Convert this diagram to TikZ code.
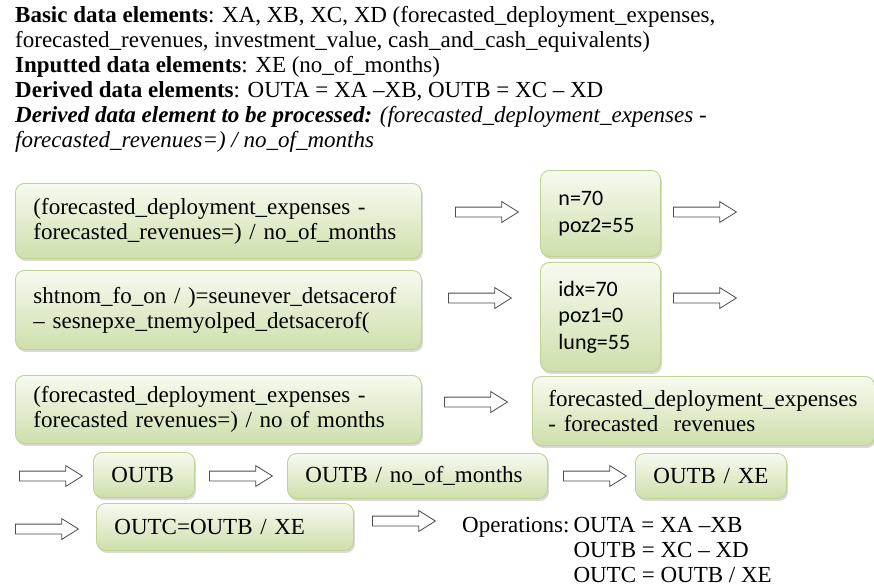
\documentclass[tikz,border=0pt]{standalone}
\usepackage{fontspec}
\setmainfont{Liberation Serif}
\newfontfamily\calibri{Carlito}
\usetikzlibrary{shapes.arrows,shadows}
\definecolor{boxtop}{HTML}{F7FAF0}
\definecolor{boxbottom}{HTML}{CEDFAB}
\definecolor{boxline}{HTML}{BFD394}
\tikzset{
  greenbox/.style={draw=boxline, line width=0.9pt, rounded corners=9pt,
    top color=boxtop, bottom color=boxbottom, anchor=north west, align=left,
    inner xsep=18pt, inner ysep=0pt, font=\fontsize{23}{25}\selectfont,
    drop shadow={opacity=0.3, shadow xshift=1.5pt, shadow yshift=-2.5pt}},
  blockarrow/.style={single arrow, draw=black!70, fill=white, anchor=west,
    minimum height=63pt, minimum width=20pt, single arrow head extend=5.5pt,
    single arrow tip angle=64, inner xsep=0pt, inner ysep=4.5pt, line width=0.8pt}
}
\begin{document}
\begin{tikzpicture}[x=1pt,y=-1pt]
        \useasboundingbox (0,0) rectangle (874,586);
        % Data elements and processing steps
        \node[anchor=north west, align=left, inner sep=0pt, font=\fontsize{23}{25}\selectfont] (info) at (15,6)
          {\textbf{Basic data elements}: XA, XB, XC, XD (forecasted\_deployment\_expenses,\\
           forecasted\_revenues, investment\_value, cash\_and\_cash\_equivalents)\\
           \textbf{Inputted data elements}: XE (no\_of\_months)\\
           \textbf{Derived data elements}: OUTA = XA –XB, OUTB = XC – XD\\
           \textbf{\textit{Derived data element to be processed:}} \textit{(forecasted\_deployment\_expenses -}\\
           \textit{forecasted\_revenues=) / no\_of\_months}};
        \node[greenbox, text width=370pt, minimum height=75pt] (expr1) at (15,183)
          {(forecasted\_deployment\_expenses -\\forecasted\_revenues=) / no\_of\_months};
        \node[greenbox, text width=370pt, minimum height=79pt] (expr2) at (15,270)
          {shtnom\_fo\_on / )=seunever\_detsacerof\\– sesnepxe\_tnemyolped\_detsacerof(};
        \node[greenbox, text width=370pt, minimum height=68pt] (expr3) at (15,375)
          {(forecasted\_deployment\_expenses -\\forecasted revenues=) / no of months};
        \node[greenbox, text width=84pt, minimum height=86pt, font=\calibri\fontsize{22}{26.5}\selectfont] (vals1) at (540,170)
          {n=70\\poz2=55};
        \node[greenbox, text width=84pt, minimum height=109pt, font=\calibri\fontsize{22}{26.5}\selectfont] (vals2) at (540,262)
          {idx=70\\poz1=0\\lung=55};
        \node[greenbox, text width=310pt, minimum height=69pt, inner xsep=16pt] (diff) at (532,376)
          {forecasted\_deployment\_expenses\\- forecasted\ \ revenues};
        \node[greenbox, text width=65pt, minimum height=45pt] (outb) at (93,452) {OUTB};
        \node[greenbox, text width=224pt, minimum height=45pt] (outbm) at (287,453) {OUTB / no\_of\_months};
        \node[greenbox, text width=115pt, minimum height=45pt] (outbx) at (635,453) {OUTB / XE};
        \node[greenbox, text width=221pt, minimum height=47pt] (outc) at (96,503) {OUTC=OUTB / XE};
        \foreach \n/\x/\y in {1/455/212, 2/673/212, 3/448/298, 4/673/298, 5/444/402,
                              6/19/476, 7/209/476, 8/563/476, 9/15/529, 10/372/521}
        {
            \node[blockarrow] (a\n) at (\x,\y) {};
        }
        \node[anchor=base west, inner sep=0pt, font=\fontsize{23}{25}\selectfont] (ops) at (462,532)
          {\begin{tabular}[t]{@{}l@{\hspace{4pt}}l@{}}
             Operations: & OUTA = XA –XB\\
                         & OUTB = XC – XD\\
                         & OUTC = OUTB / XE
           \end{tabular}};
    \end{tikzpicture}
\end{document}
